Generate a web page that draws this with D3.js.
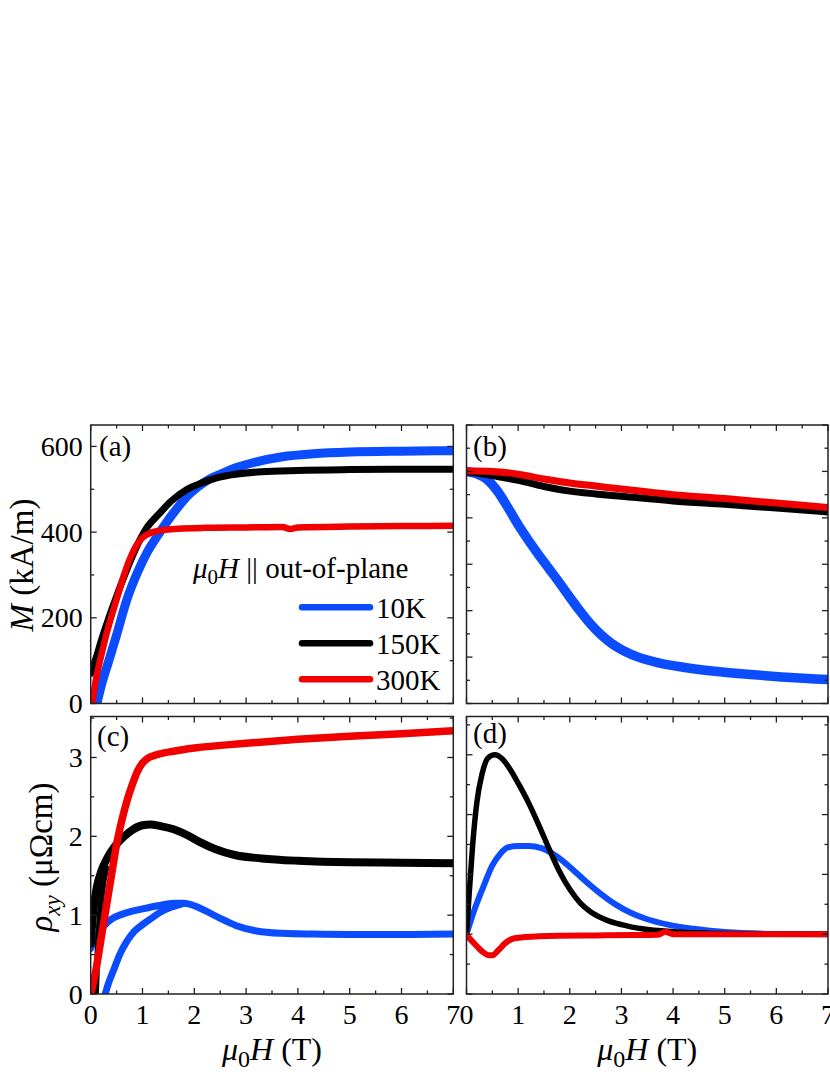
<!DOCTYPE html>
<html><head><meta charset="utf-8">
<script src="https://cdn.jsdelivr.net/npm/d3@7"></script>
<style>
body{margin:0;background:#fff;}
svg text{font-family:"Liberation Serif","Times New Roman",serif;fill:#000;}
</style></head>
<body><svg id="chart" width="830" height="1075"></svg>
<script>
// ---------- DATA ----------
const xTicks = [0,1,2,3,4,5,6,7];
const aTicks = [0,200,400,600];
const cTicks = [0,1,2,3];
const seriesNames = ["10K","150K","300K"];
const seriesColors = ["#0b4cff","#000000","#f00000"];

// (a) M (kA/m) vs mu0H (T)
const a10_H = [0.12,0.2,0.35,0.5,0.7,0.9,1.1,1.3,1.6,1.9,2.2,2.5,2.8,3.2,3.7,4.3,5,6,7];
const a10_M = [0,40,100,160,243,305,355,393,445,488,517,535,550,564,576,583,587,589,590];
const a150_H = [0,0.1,0.2,0.35,0.5,0.65,0.8,0.95,1.1,1.3,1.55,1.85,2.15,2.45,2.8,3.3,4,5,6,7];
const a150_M = [70,105,145,200,250,298,343,382,413,440,472,499,515,527,535,541,544,546,547,547];
const a300_H = [0.03,0.1,0.2,0.3,0.4,0.5,0.6,0.7,0.8,0.9,1.0,1.15,1.4,1.7,2.2,3.0,3.7,3.85,4.0,5,6,7];
const a300_M = [0,55,110,160,203,243,283,320,350,372,387,398,405,408,410,411,412,407,411,413,414,415];

// (b) normalized, unlabeled axis
const b10_H = [0,0.2,0.4,0.6,0.8,1.0,1.2,1.4,1.6,1.8,2.0,2.2,2.4,2.6,2.8,3.0,3.3,3.7,4.2,4.8,5.5,6.2,7];
const b10_V = [1.0,0.99,0.965,0.915,0.845,0.77,0.703,0.64,0.58,0.52,0.458,0.398,0.343,0.297,0.26,0.232,0.202,0.176,0.156,0.139,0.125,0.113,0.103];
const b150_H = [0,0.3,0.6,1.0,1.5,2.0,2.5,3.0,4.0,5.0,6.0,7.0];
const b150_V = [1.0,0.99,0.978,0.962,0.935,0.915,0.903,0.893,0.873,0.858,0.842,0.825];
const b300_H = [0,0.5,1.0,1.5,2.0,2.5,3.0,4.0,5.0,6.0,7.0];
const b300_V = [1.003,1.0,0.988,0.967,0.95,0.937,0.924,0.9,0.883,0.864,0.845];

// (c) rho_xy (uOhm cm)
const c10_H = [0,0.1,0.25,0.4,0.6,0.8,1.0,1.3,1.6,1.8,2.0,2.2,2.5,2.8,3.2,3.7,4.3,5,6,7];
const c10_V = [0.58,0.72,0.86,0.95,1.01,1.05,1.08,1.12,1.15,1.15,1.12,1.06,0.96,0.87,0.8,0.77,0.76,0.755,0.755,0.76];
const c10b_H = [0.28,0.34,0.44,0.56,0.7,0.85,1.0,1.15,1.35,1.55,1.75];
const c10b_V = [0,0.13,0.3,0.5,0.67,0.8,0.88,0.95,1.04,1.1,1.14];
const c150_H = [0,0.05,0.12,0.2,0.3,0.45,0.63,0.8,1.0,1.15,1.35,1.6,1.85,2.1,2.4,2.8,3.3,4.0,5.0,6.0,7.0];
const c150_V = [0.64,1.05,1.36,1.55,1.7,1.86,1.99,2.08,2.14,2.15,2.13,2.09,2.02,1.93,1.84,1.76,1.72,1.69,1.67,1.665,1.66];
const c150b_H = [0.1,0.13,0.17,0.22,0.3];
const c150b_V = [0,0.5,0.95,1.3,1.6];
const c300_H = [0,0.1,0.2,0.3,0.4,0.5,0.6,0.7,0.8,0.9,1.0,1.1,1.3,1.6,2,3,4,5,6,7];
const c300_V = [0,0.3,0.7,1.1,1.5,1.9,2.2,2.45,2.65,2.82,2.93,2.99,3.04,3.08,3.12,3.18,3.23,3.27,3.3,3.34];

// (d) unlabeled axis
const d10_H = [0,0.15,0.33,0.5,0.66,0.8,1.0,1.2,1.45,1.75,2.0,2.3,2.6,2.9,3.2,3.5,3.9,4.4,5,6,7];
const d10_V = [0.2,0.28,0.36,0.43,0.47,0.49,0.495,0.495,0.488,0.46,0.425,0.378,0.335,0.298,0.27,0.25,0.232,0.218,0.207,0.201,0.2];
const d150_H = [0,0.05,0.12,0.2,0.3,0.42,0.55,0.7,0.85,1.0,1.2,1.4,1.6,1.8,2.0,2.2,2.4,2.7,3.0,3.4,4.0,5,6,7];
const d150_V = [0.2,0.33,0.5,0.64,0.735,0.79,0.8,0.785,0.75,0.705,0.64,0.565,0.485,0.41,0.35,0.305,0.275,0.248,0.232,0.218,0.208,0.202,0.2,0.2];
const d300_H = [0,0.1,0.21,0.32,0.43,0.5,0.62,0.75,0.9,1.1,1.4,1.8,2.5,3.2,3.7,3.85,4.0,4.5,5.5,7];
const d300_V = [0.197,0.178,0.158,0.14,0.13,0.13,0.147,0.17,0.185,0.19,0.193,0.195,0.196,0.197,0.198,0.208,0.2,0.2,0.2,0.2];

// ---------- DRAW ----------
const svg = d3.select("#chart");
const zip = (h,v) => h.map((x,i)=>[x,v[i]]);

const colL = [90.7, 453.3], colR = [466.5, 828];
const rowT = [703.5, 425], rowB = [994, 716.5];

const panels = [
  {id:"a", xr:colL, yr:rowT, yd:[0,650], major:aTicks, minor:[100,300,500], label:"(a)", lx:99, ly:456,
   lines:[[a10_H,a10_M,0,9],[a150_H,a150_M,1,7],[a300_H,a300_M,2,6.5]], ylabels:true},
  {id:"b", xr:colR, yr:rowT, yd:[0,1.2], major:[0,0.2,0.4,0.6,0.8,1.0,1.2], minor:[0.1,0.3,0.5,0.7,0.9,1.1], label:"(b)", lx:473, ly:456,
   lines:[[b10_H,b10_V,0,9.5],[b150_H,b150_V,1,7],[b300_H,b300_V,2,7]], ylabels:false},
  {id:"c", xr:colL, yr:rowB, yd:[0,3.52], major:cTicks, minor:[0.5,1.5,2.5,3.5], label:"(c)", lx:97, ly:746,
   lines:[[c10_H,c10_V,0,7],[c10b_H,c10b_V,0,7],[c150_H,c150_V,1,8],[c150b_H,c150b_V,1,6],[c300_H,c300_V,2,7.5]], ylabels:true, xlabels:true},
  {id:"d", xr:colR, yr:rowB, yd:[0,0.928], major:[0,0.2,0.4,0.6,0.8], minor:[0.1,0.3,0.5,0.7,0.9], label:"(d)", lx:473, ly:743,
   lines:[[d10_H,d10_V,0,6],[d150_H,d150_V,1,5.5],[d300_H,d300_V,2,6]], ylabels:false, xlabels:true}
];

const xMinor = [0.5,1.5,2.5,3.5,4.5,5.5,6.5];

panels.forEach(p => {
  const x = d3.scaleLinear().domain([0,7]).range(p.xr);
  const y = d3.scaleLinear().domain(p.yd).range(p.yr);
  const g = svg.append("g");
  const x0=p.xr[0], x1=p.xr[1], yTop=p.yr[1], yBot=p.yr[0];

  g.append("clipPath").attr("id","clip"+p.id).append("rect")
    .attr("x",x0).attr("y",yTop).attr("width",x1-x0).attr("height",yBot-yTop);

  const line = d3.line().x(d=>x(d[0])).y(d=>y(d[1])).curve(d3.curveMonotoneX);
  const lg = g.append("g").attr("clip-path","url(#clip"+p.id+")");
  p.lines.forEach(([h,v,ci,w]) => {
    lg.append("path").attr("d", line(zip(h,v))).attr("fill","none")
      .attr("stroke", seriesColors[ci]).attr("stroke-width", w)
      .attr("stroke-linejoin","round").attr("stroke-linecap","round");
  });

  // ticks (inward, all four sides)
  const tk = g.append("g").attr("stroke","#222").attr("stroke-width",1.3);
  const maj=6, mn=3.5;
  xTicks.forEach(t=>{ const xx=x(t);
    tk.append("line").attr("x1",xx).attr("x2",xx).attr("y1",yBot).attr("y2",yBot-maj);
    tk.append("line").attr("x1",xx).attr("x2",xx).attr("y1",yTop).attr("y2",yTop+maj);});
  xMinor.forEach(t=>{ const xx=x(t);
    tk.append("line").attr("x1",xx).attr("x2",xx).attr("y1",yBot).attr("y2",yBot-mn);
    tk.append("line").attr("x1",xx).attr("x2",xx).attr("y1",yTop).attr("y2",yTop+mn);});
  p.major.forEach(t=>{ const yy=y(t);
    tk.append("line").attr("x1",x0).attr("x2",x0+maj).attr("y1",yy).attr("y2",yy);
    tk.append("line").attr("x1",x1).attr("x2",x1-maj).attr("y1",yy).attr("y2",yy);});
  p.minor.forEach(t=>{ if(t>p.yd[1]) return; const yy=y(t);
    tk.append("line").attr("x1",x0).attr("x2",x0+mn).attr("y1",yy).attr("y2",yy);
    tk.append("line").attr("x1",x1).attr("x2",x1-mn).attr("y1",yy).attr("y2",yy);});

  g.append("rect").attr("x",x0).attr("y",yTop).attr("width",x1-x0).attr("height",yBot-yTop)
    .attr("fill","none").attr("stroke","#222").attr("stroke-width",1.5);

  if (p.ylabels) {
    p.major.forEach(t=>{
      g.append("text").attr("x",x0-8).attr("y",y(t)).attr("text-anchor","end")
        .attr("dominant-baseline","central").attr("font-size",28).text(t);
    });
  }
  if (p.xlabels) {
    xTicks.forEach(t=>{
      g.append("text").attr("x",x(t)).attr("y",1024).attr("text-anchor","middle")
        .attr("font-size",28).text(t);
    });
    const tt = g.append("text").attr("x",(x0+x1)/2).attr("y",1060).attr("text-anchor","middle").attr("font-size",32);
    tt.append("tspan").attr("font-style","italic").text("μ");
    tt.append("tspan").attr("font-size",24).attr("dy",7).text("0");
    tt.append("tspan").attr("font-style","italic").attr("dy",-7).text("H");
    tt.append("tspan").text(" (T)");
  }
  g.append("text").attr("x",p.lx).attr("y",p.ly).attr("font-size",29).text(p.label);
});

// y axis titles
const yl1 = svg.append("text").attr("transform","translate(33,565) rotate(-90)").attr("text-anchor","middle").attr("font-size",33);
yl1.append("tspan").attr("font-style","italic").text("M");
yl1.append("tspan").text(" (kA/m)");

const yl2 = svg.append("text").attr("transform","translate(52,857) rotate(-90)").attr("text-anchor","middle").attr("font-size",33);
yl2.append("tspan").attr("font-style","italic").text("ρ");
yl2.append("tspan").attr("font-style","italic").attr("font-size",23).attr("dy",8).text("xy");
yl2.append("tspan").attr("dy",-8).text(" (μΩcm)");

// legend
const lt = svg.append("text").attr("x",193).attr("y",578).attr("font-size",29);
lt.append("tspan").attr("font-style","italic").text("μ");
lt.append("tspan").attr("font-size",21).attr("dy",6).text("0");
lt.append("tspan").attr("font-style","italic").attr("dy",-6).text("H");
lt.append("tspan").text(" || out-of-plane");

const legY = [607.3, 643.3, 679.3];
seriesNames.forEach((n,i)=>{
  svg.append("line").attr("x1",302).attr("x2",370).attr("y1",legY[i]).attr("y2",legY[i])
    .attr("stroke",seriesColors[i]).attr("stroke-width",6.5).attr("stroke-linecap","round");
  svg.append("text").attr("x",376).attr("y",legY[i]+10.5).attr("font-size",29).text(n);
});
</script></body></html>
